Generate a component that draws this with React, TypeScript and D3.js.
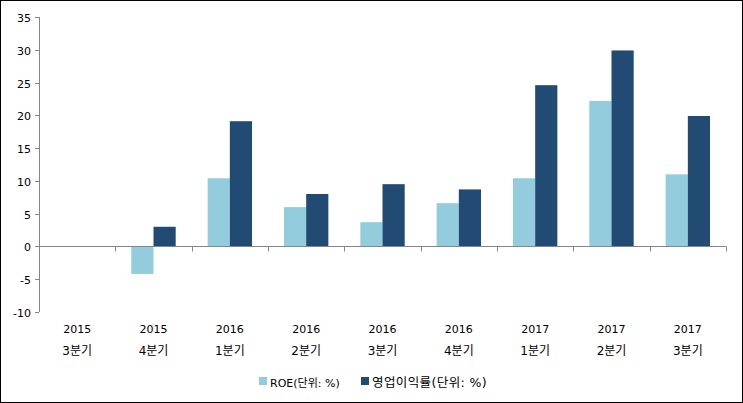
import { useEffect, useRef } from "react"
import * as d3 from "d3"

const years = ["2015", "2015", "2016", "2016", "2016", "2016", "2017", "2017", "2017"]
const quarters = ["3분기", "4분기", "1분기", "2분기", "3분기", "4분기", "1분기", "2분기", "3분기"]
const roe: (number | null)[] = [null, -4.2, 10.4, 6.0, 3.7, 6.6, 10.4, 22.2, 11.0]
const opMargin: (number | null)[] = [null, 3.0, 19.1, 8.0, 9.5, 8.7, 24.6, 29.9, 19.9]
const yTicks = [-10, -5, 0, 5, 10, 15, 20, 25, 30, 35]
const seriesNames = ["ROE(단위: %)", "영업이익률(단위: %)"]
const seriesColors = ["#93CDDD", "#224B73"]

const W = 743
const H = 403
const font = "'DejaVu Sans', 'Noto Sans CJK KR', sans-serif"

export default function App() {
  const svgRef = useRef<SVGSVGElement>(null)

  useEffect(() => {
    if (!svgRef.current) return
    const svg = d3.select(svgRef.current)
    svg.selectAll("*").remove()

    const left = 39
    const right = 726
    const top = 17
    const bottom = 312

    svg.append("rect")
      .attr("x", 0.5).attr("y", 0.5)
      .attr("width", W - 1).attr("height", H - 1)
      .attr("fill", "white").attr("stroke", "black")

    const x = d3.scaleBand<number>()
      .domain(d3.range(years.length))
      .range([left, right])
    const inner = d3.scaleBand<number>()
      .domain([0, 1])
      .range([0, x.bandwidth()])
      .paddingOuter(0.72)
    const y = d3.scaleLinear().domain([-10, 35]).range([bottom, top])

    const axisColor = "#868686"

    // y axis
    svg.append("line")
      .attr("x1", left + 0.5).attr("x2", left + 0.5)
      .attr("y1", top).attr("y2", bottom)
      .attr("stroke", axisColor)
    yTicks.forEach(t => {
      const yy = Math.round(y(t)) + 0.5
      svg.append("line")
        .attr("x1", left - 4).attr("x2", left)
        .attr("y1", yy).attr("y2", yy)
        .attr("stroke", axisColor)
      svg.append("text")
        .attr("x", left - 8).attr("y", yy + 4)
        .attr("text-anchor", "end")
        .attr("font-family", font).attr("font-size", 11)
        .attr("fill", "#000")
        .text(t)
    })

    // bars
    const series = [roe, opMargin]
    series.forEach((vals, si) => {
      vals.forEach((v, i) => {
        if (v == null) return
        const x0 = (x(i) ?? 0) + (inner(si) ?? 0)
        svg.append("rect")
          .attr("x", x0)
          .attr("width", inner.bandwidth())
          .attr("y", y(Math.max(0, v)))
          .attr("height", Math.abs(y(v) - y(0)))
          .attr("fill", seriesColors[si])
      })
    })

    // x axis
    const y0 = Math.round(y(0)) + 0.5
    svg.append("line")
      .attr("x1", left).attr("x2", right)
      .attr("y1", y0).attr("y2", y0)
      .attr("stroke", axisColor)
    d3.range(1, years.length + 1).forEach(i => {
      const xx = Math.round(i < years.length ? (x(i) ?? 0) : right) + 0.5
      svg.append("line")
        .attr("x1", xx).attr("x2", xx)
        .attr("y1", y0).attr("y2", y0 + 5)
        .attr("stroke", axisColor)
    })

    years.forEach((yr, i) => {
      const cx = (x(i) ?? 0) + x.bandwidth() / 2
      svg.append("text")
        .attr("x", cx).attr("y", 333)
        .attr("text-anchor", "middle")
        .attr("font-family", font).attr("font-size", 11)
        .text(yr)
      svg.append("text")
        .attr("x", cx).attr("y", 355)
        .attr("text-anchor", "middle")
        .attr("font-family", font).attr("font-size", 12)
        .text(quarters[i])
    })

    // legend
    const legendX = [259, 361]
    seriesNames.forEach((name, i) => {
      svg.append("rect")
        .attr("x", legendX[i]).attr("y", 377)
        .attr("width", 8).attr("height", 8)
        .attr("fill", seriesColors[i])
      svg.append("text")
        .attr("x", legendX[i] + 11).attr("y", 387)
        .attr("font-family", font).attr("font-size", i === 0 ? 11 : 12.5)
        .attr("letter-spacing", i === 0 ? 0 : 0.4)
        .text(name)
    })
  }, [])

  return (
    <div style={{ position: "fixed", left: 0, top: 0 }}>
      <svg ref={svgRef} width={W} height={H} style={{ display: "block" }} />
    </div>
  )
}
